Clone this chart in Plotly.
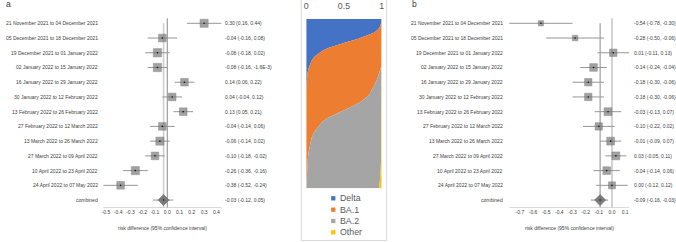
import plotly.graph_objects as go

W, H = 676, 242

# ---------------- data ----------------
periods = [
    "21 November 2021 to 04 December 2021",
    "05 December 2021 to 18 December 2021",
    "19 December 2021 to 01 January 2022",
    "02 January 2022 to 15 January 2022",
    "16 January 2022 to 29 January 2022",
    "30 January 2022 to 12 February 2022",
    "13 February 2022 to 26 February 2022",
    "27 February 2022 to 12 March 2022",
    "13 March 2022 to 26 March 2022",
    "27 March 2022 to 09 April 2022",
    "10 April 2022 to 23 April 2022",
    "24 April 2022 to 07 May 2022",
    "combined",
]

a_est = [0.30, -0.04, -0.08, -0.08, 0.14, 0.04, 0.13, -0.04, -0.06, -0.10, -0.26, -0.38, -0.03]
a_lo = [0.16, -0.16, -0.18, -0.16, 0.06, -0.04, 0.05, -0.14, -0.14, -0.18, -0.36, -0.52, -0.12]
a_hi = [0.44, 0.08, 0.02, -0.0016, 0.22, 0.12, 0.21, 0.06, 0.02, -0.02, -0.16, -0.24, 0.05]
a_weight = [9.0, 8.0, 9.5, 9.5, 8.0, 8.0, 8.0, 8.0, 9.0, 8.0, 9.0, 8.0]

b_est = [-0.54, -0.28, 0.01, -0.14, -0.18, -0.18, -0.03, -0.10, -0.01, 0.03, -0.04, 0.00, -0.09]
b_lo = [-0.78, -0.50, -0.11, -0.24, -0.30, -0.30, -0.13, -0.22, -0.09, -0.05, -0.14, -0.12, -0.16]
b_hi = [-0.30, -0.06, 0.13, -0.04, -0.06, -0.06, 0.07, 0.02, 0.07, 0.11, 0.06, 0.12, -0.03]
b_weight = [3.8, 4.2, 7.5, 8.0, 7.5, 7.5, 8.5, 7.5, 8.5, 8.5, 8.0, 6.8]

a_ticks = [-0.5, -0.4, -0.3, -0.2, -0.1, 0.0, 0.1, 0.2, 0.3, 0.4]
b_ticks = [-0.7, -0.6, -0.5, -0.4, -0.3, -0.2, -0.1, 0.0, 0.1]
axis_title = "risk difference (95% confidence interval)"

# variant composition (sorted samples, top to bottom)
sample_rank = [0, 1.2, 3.0, 4.7, 6.5, 8.3, 10.0, 11.8, 13.6, 15.4, 17.1, 18.9, 20.7, 22.4,
               24.8, 27.2, 29.5, 32.5, 35.4, 38.4, 41.3, 44.3, 46.7, 49.0, 51.4, 53.8, 56.1,
               58.5, 60.8, 63.8, 66.7, 70.3, 74.4, 78.6, 83.3, 88.0, 92.7, 96.9, 100]
delta = [1.00, 0.998, 0.99, 0.975, 0.945, 0.89, 0.80, 0.68, 0.54, 0.40, 0.29, 0.21, 0.15, 0.105,
         0.07, 0.045, 0.028, 0.015, 0.007, 0.002, 0, 0, 0, 0, 0, 0, 0,
         0, 0, 0, 0, 0, 0, 0, 0, 0, 0, 0, 0]
ba1 = [0, 0.002, 0.01, 0.025, 0.055, 0.11, 0.20, 0.32, 0.46, 0.60, 0.71, 0.79, 0.85, 0.895,
       0.93, 0.952, 0.957, 0.95, 0.933, 0.908, 0.88, 0.84, 0.79, 0.72, 0.62, 0.50, 0.38,
       0.28, 0.21, 0.15, 0.105, 0.07, 0.047, 0.032, 0.02, 0.012, 0.006, 0.002, 0]
ba2 = [0, 0, 0, 0, 0, 0, 0, 0, 0, 0, 0, 0, 0, 0,
       0, 0.003, 0.015, 0.035, 0.06, 0.09, 0.12, 0.16, 0.21, 0.28, 0.38, 0.50, 0.62,
       0.72, 0.79, 0.85, 0.895, 0.93, 0.952, 0.964, 0.972, 0.976, 0.976, 0.973, 0.968]
other = [0, 0, 0, 0, 0, 0, 0, 0, 0, 0, 0, 0, 0, 0,
         0, 0, 0, 0, 0, 0, 0, 0, 0, 0, 0, 0, 0,
         0, 0, 0, 0, 0, 0.001, 0.004, 0.008, 0.012, 0.018, 0.025, 0.032]
variants = ["Delta", "BA.1", "BA.2", "Other"]
variant_colors = ["#4472C4", "#ED7D31", "#A5A5A5", "#FFC000"]

# ---------------- helpers ----------------
def px(x):
    return x / W


def py(y):
    return 1 - y / H


def fmt(v):
    if v != 0 and abs(v) < 0.005:
        m, e = f"{v:.1E}".split("E")
        return f"{m}E{int(e)}"
    return f"{v:.2f}"


def tick_fmt(v):
    return f"{v:.1f}"


FONT = "Liberation Sans"
TXT = "#404040"
ROW0, DY = 23.3, 14.73
TOP_PX, BOT_PX = 10, 207.7
yrange = [(BOT_PX - ROW0) / DY, (TOP_PX - ROW0) / DY]

fig = go.Figure()
shapes = []
annotations = []


def forest(est, lo, hi, weight, xa, ya, xref, yref, line_zero, line_comb, lab_x, txt_x, title_x):
    n = len(est)
    rows = list(range(n))
    xs, ys = [], []
    for i in rows:
        xs += [lo[i], hi[i], None]
        ys += [i, i, None]
    fig.add_trace(go.Scatter(x=xs, y=ys, mode="lines", xaxis=xa, yaxis=ya,
                             line=dict(color="#969696", width=1), hoverinfo="skip"))
    k = 2.7
    fig.add_trace(go.Scatter(x=est[:-1], y=rows[:-1], mode="markers", xaxis=xa, yaxis=ya,
                             marker=dict(symbol="square", size=[k * w ** 0.5 for w in weight],
                                         color="#7a7a7a", line=dict(color="#5e5e5e", width=0.5))))
    fig.add_trace(go.Scatter(x=[est[-1]], y=[rows[-1]], mode="markers", xaxis=xa, yaxis=ya,
                             marker=dict(symbol="diamond", size=8.5, color="#7a7a7a",
                                         line=dict(color="#5e5e5e", width=0.5))))
    fig.add_trace(go.Scatter(x=est, y=rows, mode="markers", xaxis=xa, yaxis=ya,
                             marker=dict(symbol="circle", size=1.6, color="#111111")))
    shapes.append(dict(type="line", xref=xref, yref=yref, x0=0, x1=0, y0=-0.34, y1=yrange[0],
                       line=line_zero, layer="below"))
    shapes.append(dict(type="line", xref=xref, yref=yref, x0=est[-1], x1=est[-1], y0=0, y1=yrange[0],
                       line=line_comb, layer="below"))
    shapes.append(dict(type="line", xref=xref, yref=yref, x0=min(lo), x1=max(hi),
                       y0=yrange[0], y1=yrange[0], line=dict(color="#b0b0b0", width=0.8)))
    for i in rows:
        annotations.append(dict(text=periods[i], xref="paper", yref=yref, x=px(lab_x), y=i,
                                xanchor="right", yanchor="middle", showarrow=False,
                                font=dict(size=5, color=TXT, family=FONT)))
        annotations.append(dict(text=f"{fmt(est[i])} ({fmt(lo[i])}, {fmt(hi[i])})",
                                xref="paper", yref=yref, x=px(txt_x), y=i,
                                xanchor="left", yanchor="middle", showarrow=False,
                                font=dict(size=5, color=TXT, family=FONT)))
    annotations.append(dict(text=axis_title, xref="paper", yref="paper", x=px(title_x), y=py(228),
                            xanchor="center", yanchor="middle", showarrow=False,
                            font=dict(size=5, color=TXT, family=FONT)))


forest(a_est, a_lo, a_hi, a_weight, "x", "y", "x", "y",
       dict(color="#8c8c8c", width=1), dict(color="#cfcfcf", width=1.6), 98.7, 223, 161.7)
forest(b_est, b_lo, b_hi, b_weight, "x3", "y3", "x3", "y3",
       dict(color="#cfcfcf", width=1.8), dict(color="#8c8c8c", width=1), 506.7, 635, 571.7)

series = [delta, ba1, ba2, other]
for name, vals, col in zip(variants, series, variant_colors):
    fig.add_trace(go.Scatter(x=vals, y=sample_rank, mode="lines", name=name, xaxis="x2", yaxis="y2",
                             orientation="h", stackgroup="comp", fillcolor=col,
                             line=dict(width=0, color=col), hoverinfo="skip"))

shapes.append(dict(type="rect", xref="paper", yref="paper", x0=px(301.5), x1=px(387.5),
                   y0=py(240.5), y1=py(-1), line=dict(color="#d9d9d9", width=1), layer="below"))

leg_y = [198.3, 209.7, 221.0, 232.3]
for name, col, yy in zip(variants, variant_colors, leg_y):
    shapes.append(dict(type="rect", xref="paper", yref="paper", x0=px(331.6), x1=px(335.9),
                       y0=py(yy + 2.15), y1=py(yy - 2.15), line=dict(width=0), fillcolor=col))
    annotations.append(dict(text=name, xref="paper", yref="paper", x=px(339.0), y=py(yy),
                            xanchor="left", yanchor="middle", showarrow=False,
                            font=dict(size=8.8, color="#595959", family=FONT)))

annotations.append(dict(text="a", xref="paper", yref="paper", x=px(7), y=py(4.5), xanchor="center",
                        yanchor="middle", showarrow=False, font=dict(size=8.5, color="#333333", family=FONT)))
annotations.append(dict(text="b", xref="paper", yref="paper", x=px(415.5), y=py(4.5), xanchor="center",
                        yanchor="middle", showarrow=False, font=dict(size=8.5, color="#333333", family=FONT)))

small_axis = dict(showgrid=False, zeroline=False, showline=False, ticks="",
                  tickfont=dict(size=5, color=TXT, family=FONT))

a0, asc = 166.5, 123.7
a_rng = [-0.6, 0.5]
b0, bsc = 614.5, 132.5
b_rng = [-0.85, 0.2]

fig.update_layout(
    width=W, height=H, margin=dict(l=0, r=0, t=0, b=0),
    paper_bgcolor="white", plot_bgcolor="rgba(0,0,0,0)", showlegend=False,
    font=dict(family=FONT, size=5, color=TXT),
    xaxis=dict(domain=[px(a0 + a_rng[0] * asc), px(a0 + a_rng[1] * asc)], range=a_rng, anchor="y",
               tickvals=a_ticks, ticktext=[tick_fmt(v) for v in a_ticks], ticklabelstandoff=0, **small_axis),
    yaxis=dict(domain=[py(BOT_PX), py(TOP_PX)], range=yrange, visible=False, anchor="x"),
    xaxis3=dict(domain=[px(b0 + b_rng[0] * bsc), px(b0 + b_rng[1] * bsc)], range=b_rng, anchor="y3",
                tickvals=b_ticks, ticktext=[tick_fmt(v) for v in b_ticks], ticklabelstandoff=0, **small_axis),
    yaxis3=dict(domain=[py(BOT_PX), py(TOP_PX)], range=yrange, visible=False, anchor="x3"),
    xaxis2=dict(domain=[px(306.5), px(382.5)], range=[0, 1], anchor="y2", side="top",
                tickvals=[0, 0.5, 1], ticktext=["0", "0.5", "1"], showgrid=False, zeroline=False,
                showline=False, ticks="", ticklabelstandoff=7,
                tickfont=dict(size=8.8, color="#595959", family=FONT)),
    yaxis2=dict(domain=[py(188.3), py(19)], range=[100, 0], visible=False, anchor="x2"),
    shapes=shapes, annotations=annotations,
)

fig.write_html("out.html", config={"displayModeBar": False},
               post_script="document.body.style.margin='0';document.body.style.padding='0';"
                           "document.body.style.overflow='hidden';")
